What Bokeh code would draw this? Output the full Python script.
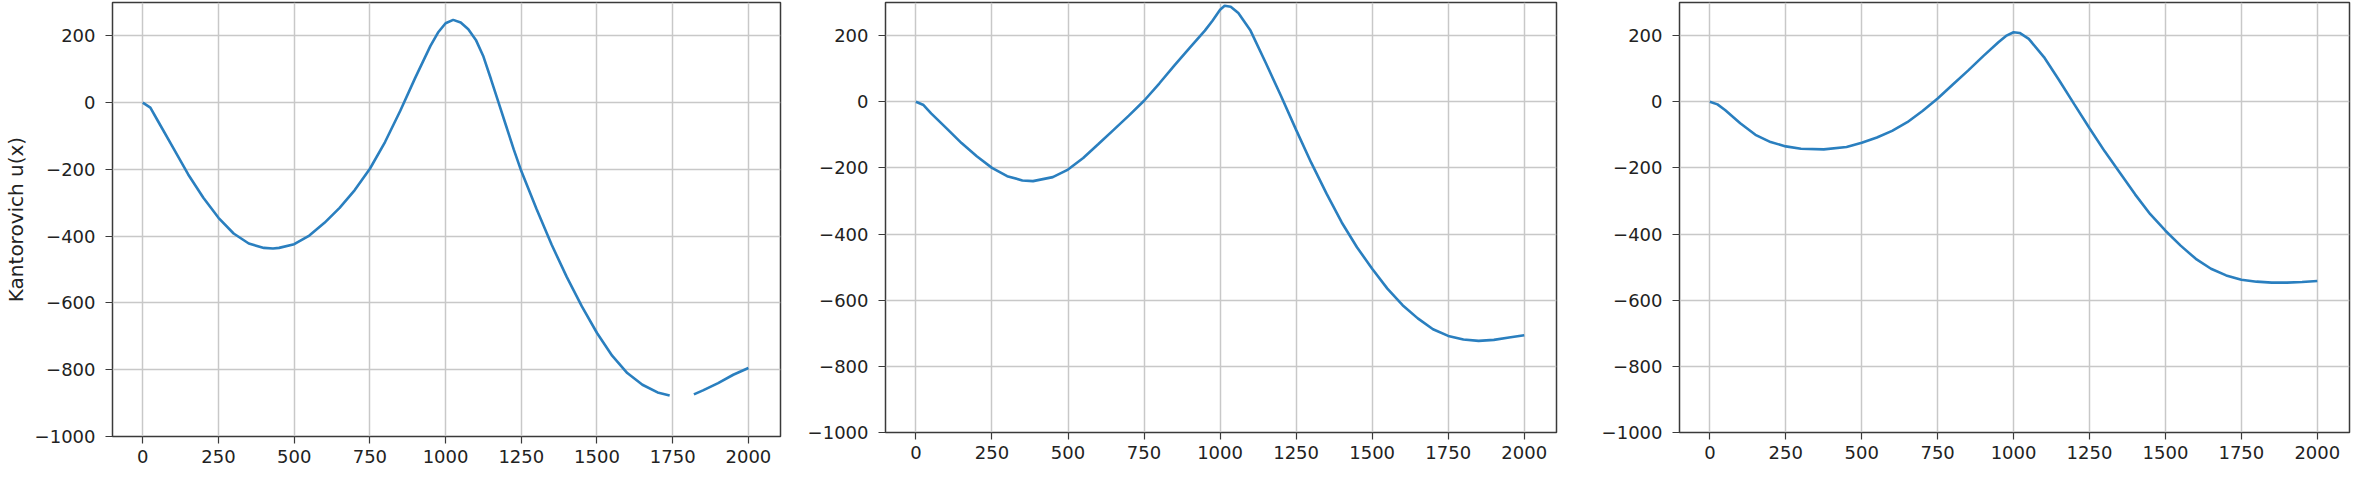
import math
from bokeh.plotting import figure
from bokeh.layouts import row
from bokeh.models import Range1d, FixedTicker, CustomJSTickFormatter
from bokeh.embed import file_html
from bokeh.resources import INLINE

nan = float("nan")

# ---- data ----
x_ticks = [0, 250, 500, 750, 1000, 1250, 1500, 1750, 2000]
y_ticks = [-1000, -800, -600, -400, -200, 0, 200]

x1 = [0, 25, 50, 100, 150, 200, 250, 300, 350, 400, 430, 450, 500, 550, 600, 650, 700,
      750, 800, 850, 900, 950, 975, 1000, 1025, 1050, 1075, 1100, 1125, 1150, 1175, 1200,
      1225, 1250, 1300, 1350, 1400, 1450, 1500, 1550, 1600, 1650, 1700, 1740, 1780, 1820,
      1850, 1900, 1950, 2000]
y1 = [0, -15, -55, -135, -215, -285, -345, -392, -422, -435, -437, -435, -424, -398, -360,
      -315, -262, -198, -118, -25, 75, 170, 210, 238, 248, 240, 220, 188, 138, 70, 0, -70,
      -140, -205, -318, -425, -522, -610, -690, -758, -810, -845, -868, -877, nan, -874,
      -862, -840, -815, -795]

x2 = [0, 25, 50, 100, 150, 200, 250, 300, 350, 385, 450, 500, 550, 600, 650, 700, 750, 800,
      850, 900, 950, 975, 1000, 1015, 1035, 1060, 1100, 1150, 1200, 1250, 1300, 1350, 1400,
      1450, 1500, 1550, 1600, 1650, 1700, 1750, 1800, 1850, 1900, 1950, 2000]
y2 = [0, -10, -35, -80, -125, -165, -200, -225, -238, -240, -228, -205, -170, -128, -85,
      -42, 3, 55, 110, 163, 215, 245, 278, 290, 287, 268, 215, 118, 18, -85, -185, -278,
      -365, -440, -505, -565, -615, -655, -688, -708, -719, -723, -720, -713, -706]

x3 = [0, 25, 50, 100, 150, 200, 250, 300, 375, 450, 500, 550, 600, 650, 700, 750, 800, 850,
      900, 950, 975, 1000, 1020, 1050, 1100, 1150, 1200, 1250, 1300, 1350, 1400, 1450, 1500,
      1550, 1600, 1650, 1700, 1750, 1800, 1850, 1900, 1950, 2000]
y3 = [0, -8, -25, -65, -100, -122, -135, -142, -144, -137, -124, -108, -88, -62, -28, 10,
      52, 94, 138, 180, 199, 210, 208, 190, 135, 65, -8, -80, -150, -215, -280, -340,
      -390, -435, -475, -505, -525, -538, -544, -547, -547, -545, -542]

y_label = "Kantorovich u(x)"

LINE = "#2a7fbf"
FRAME = "#3a3a3a"
FONT = "DejaVu Sans"

minus_fmt = "return tick.toString().replace('-', '\u2212');"


def make(xs, ys, width, height, bl, br, bt, bb, ylabel=None):
    p = figure(width=width, height=height, output_backend="svg", toolbar_location=None,
               x_range=Range1d(-100, 2106), y_range=Range1d(-1000, 300),
               min_border_left=bl, min_border_right=br, min_border_top=bt,
               min_border_bottom=bb)
    p.background_fill_color = "white"
    p.border_fill_color = "white"
    p.outline_line_color = FRAME
    p.outline_line_width = 1.5
    p.line(xs, ys, line_color=LINE, line_width=2.6)
    p.xaxis.ticker = FixedTicker(ticks=x_ticks)
    p.yaxis.ticker = FixedTicker(ticks=y_ticks)
    for ax in (p.xaxis[0], p.yaxis[0]):
        ax.formatter = CustomJSTickFormatter(code=minus_fmt)
        ax.axis_line_color = None
        ax.major_tick_line_color = FRAME
        ax.major_tick_line_width = 1.2
        ax.major_tick_out = 7
        ax.major_tick_in = 0
        ax.minor_tick_line_color = None
        ax.major_label_text_font = FONT
        ax.major_label_text_font_size = "18px"
        ax.major_label_text_color = "#222222"
    p.xaxis.major_label_standoff = 6
    p.yaxis.major_label_standoff = 10
    if ylabel:
        p.yaxis.axis_label = ylabel
        p.yaxis.axis_label_text_font = FONT
        p.yaxis.axis_label_text_font_size = "20px"
        p.yaxis.axis_label_text_font_style = "normal"
        p.yaxis.axis_label_text_color = "#222222"
        p.yaxis.axis_label_standoff = 4
    p.xgrid.ticker = FixedTicker(ticks=x_ticks)
    p.ygrid.ticker = FixedTicker(ticks=y_ticks)
    p.grid.grid_line_color = "#c8c8c8"
    p.grid.grid_line_width = 1.5
    return p


p1 = make(x1, y1, 790, 486, 109, 10, 6, 44, ylabel=y_label)
p2 = make(x2, y2, 776, 482, 95, 10, 1, 44)
p3 = make(x3, y3, 791, 482, 113, 8, 0, 46)

layout = row(p1, p2, p3, margin=(-4, 0, 0, 0))

open("out.html", "w").write(file_html(layout, INLINE))
